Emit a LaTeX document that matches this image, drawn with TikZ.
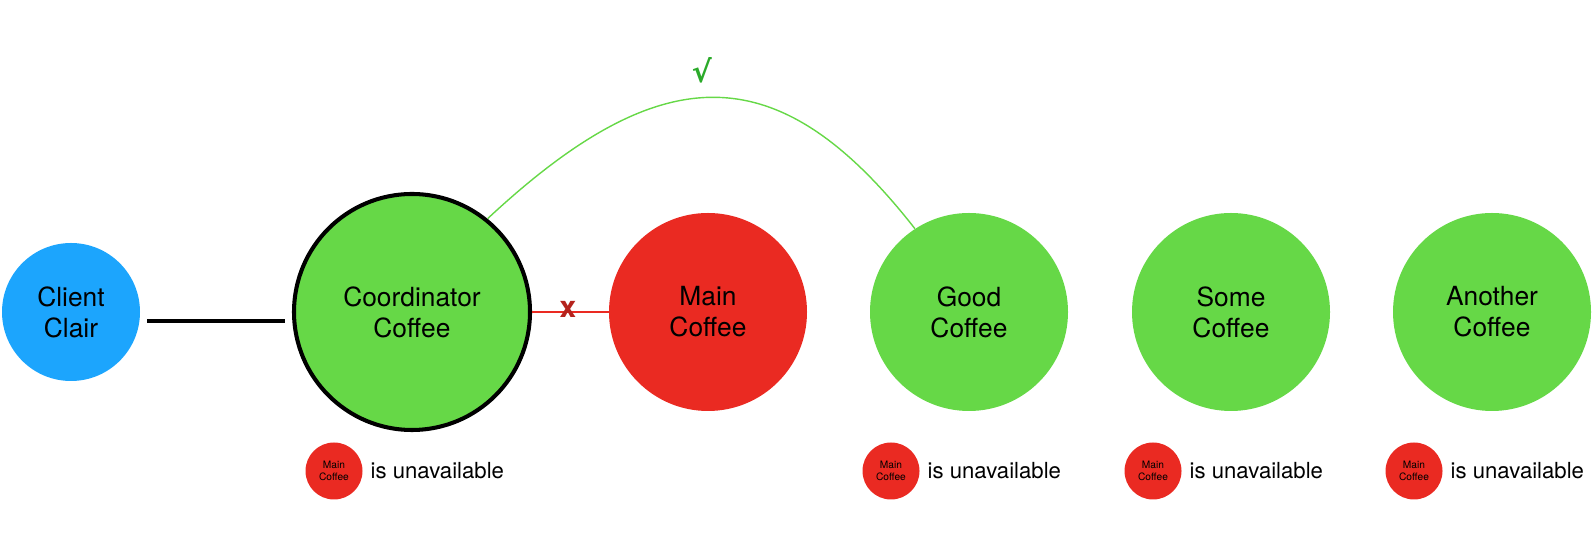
\documentclass[tikz,border=0pt]{standalone}
\usepackage{fontspec}
\setmainfont{TeX Gyre Heros}
\newfontfamily\checkfont{DejaVu Sans}
\usetikzlibrary{positioning, calc}

\definecolor{clairblue}{HTML}{1CA5FD}
\definecolor{coffeegreen}{HTML}{66D847}
\definecolor{coffeered}{HTML}{EA2A22}
\definecolor{crossred}{HTML}{B5231D}
\definecolor{checkgreen}{HTML}{2BAA2A}

\begin{document}
\begin{tikzpicture}[
                font=\fontsize{15}{17.6}\selectfont,
                big_node/.style={circle, align=center, inner sep=0pt, minimum size=3.96cm},
                ok_node/.style={big_node, fill=coffeegreen},
                mini_node/.style={circle, fill=coffeered, align=center, inner sep=0pt, minimum size=1.14cm, font=\fontsize{5.8}{6.8}\selectfont},
                note_text/.style={font=\fontsize{12.6}{14}\selectfont, inner sep=0pt},
                client_flow/.style={line width=2.5pt, black},
                fail_flow/.style={line width=1.4pt, coffeered},
                ok_flow/.style={line width=0.8pt, coffeegreen}
            ]
                \useasboundingbox (0,6.24) rectangle (31.9,-4.74);

                % Client and coordinator
                \node[big_node, fill=clairblue, minimum size=2.76cm] (client) at (1.42,0) {Client\\Clair};
                \node[big_node, fill=coffeegreen, draw=black, line width=2.3pt, minimum size=4.72cm] (coord) at (8.24,0) {Coordinator\\Coffee};

                % Replicas
                \node[big_node, fill=coffeered] (main) at (14.16,0) {Main\\Coffee};
                \node[ok_node] (good) at (19.38,0) {Good\\Coffee};
                \node[ok_node] (some) at (24.62,0) {Some\\Coffee};
                \node[ok_node] (another) at (29.84,0) {Another\\Coffee};

                % Links
                \draw[client_flow] ($(client.east)+(0.14,-0.18)$) -- ($(coord.west)+(-0.14,-0.18)$);
                \draw[fail_flow] (coord.east) -- node[midway, xshift=-0.05cm, yshift=0.06cm, text=crossred, font=\fontsize{17}{18}\selectfont\bfseries] (cross) {x} (main.west);
                \draw[ok_flow] (coord.51) .. controls +(3.5,3.26) and +(-2.72,3.48) .. (good.123)
                    node[pos=0.5, above=0.16cm, xshift=-0.28cm, text=checkgreen, font=\checkfont\bfseries\fontsize{17}{18}\selectfont] (check) {√};

                % Unavailable notes
                \foreach \n in {coord, good, some, another} {
                    \node[mini_node] (mini-\n) at ($(\n)+(-1.56,-3.18)$) {Main\\Coffee};
                    \node[note_text, right=0.15cm of mini-\n] (note-\n) {is unavailable};
                }

            \end{tikzpicture}
\end{document}
